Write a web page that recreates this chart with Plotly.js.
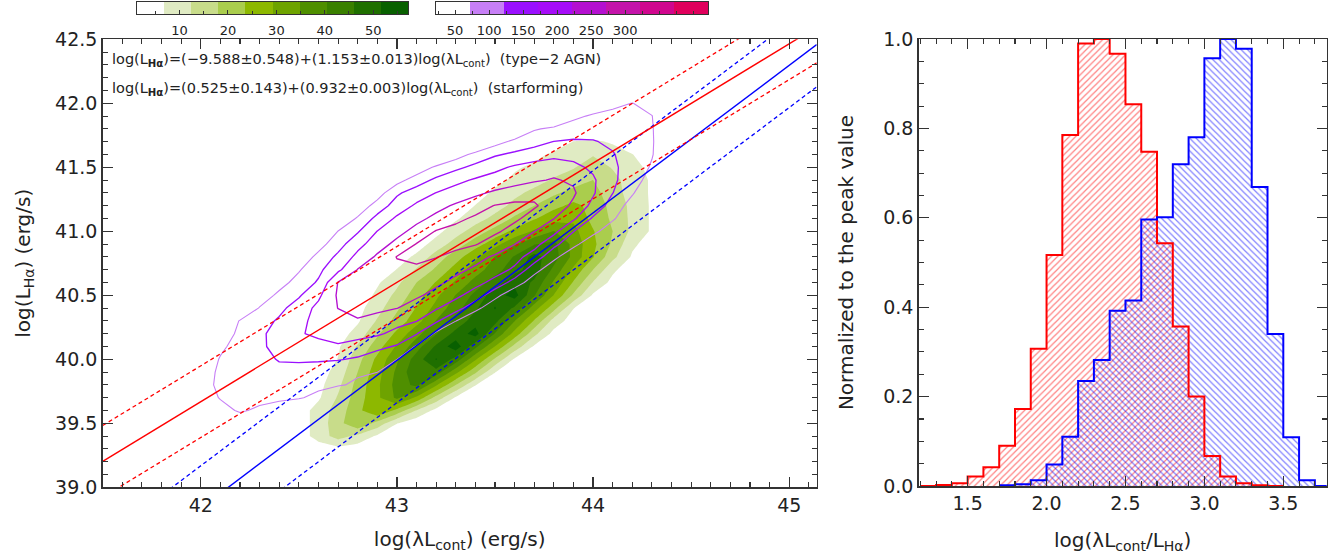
<!DOCTYPE html>
<html>
<head>
<meta charset="utf-8">
<script src="https://cdn.plot.ly/plotly-3.0.1.min.js"></script>
<style>
  html, body { margin: 0; padding: 0; background: #ffffff; }
  #chart { width: 1340px; height: 560px; }
</style>
</head>
<body>
<div id="chart"></div>
<script>
// ---------- Linear fits: log(L_Ha) = a + b * log(lambda L_cont) ----------
const fitNames       = ['type\u22122 AGN', 'starforming'];
const fitIntercepts  = [-9.588, 0.525];
const fitInterceptEr = [0.548, 0.143];
const fitSlopes      = [1.153, 0.932];
const fitSlopeEr     = [0.013, 0.003];
const fitScatter     = [0.33, 0.28];
const fitColors      = ['#0000ff', '#ff0000'];

// ---------- Filled density (green), binned on a 0.1 dex grid ----------
const greenX = [42.4,42.5,42.6,42.7,42.8,42.9,43.0,43.1,43.2,43.3,43.4,43.5,43.6,43.7,43.8,43.9,44.0,44.1,44.2,44.3,44.4];
const greenY = [39.2,39.3,39.4,39.5,39.6,39.7,39.8,39.9,40.0,40.1,40.2,40.3,40.4,40.5,40.6,40.7,40.8,40.9,41.0,41.1,41.2,41.3,41.4,41.5,41.6,41.7,41.8];
const greenZ = [
  [0,0,0,0,0,0,0,0,0,0,0,0,0,0,0,0,0,0,0,0,0],
  [0,0,4,5,4,0,0,0,0,0,0,0,0,0,0,0,0,0,0,0,0],
  [0,4,9,15,11,6,2,0,0,0,0,0,0,0,0,0,0,0,0,0,0],
  [0,4,9,16,23,16,7,3,0,0,0,0,0,0,0,0,0,0,0,0,0],
  [0,4,9,15,22,29,22,12,5,1,0,0,0,0,0,0,0,0,0,0,0],
  [0,2,6,13,21,28,36,28,16,6,2,0,0,0,0,0,0,0,0,0,0],
  [0,1,5,11,20,28,37,42,30,18,7,3,0,0,0,0,0,0,0,0,0],
  [0,0,4,9,18,27,36,45,44,31,19,7,3,0,0,0,0,0,0,0,0],
  [0,0,3,7,16,25,34,43,52,44,30,17,6,2,0,0,0,0,0,0,0],
  [0,0,2,6,13,21,30,38,47,55,42,29,16,6,2,0,0,0,0,0,0],
  [0,0,0,4,9,17,25,33,40,48,54,40,27,14,5,1,0,0,0,0,0],
  [0,0,0,2,6,13,20,27,35,42,49,48,35,23,10,4,0,0,0,0,0],
  [0,0,0,1,5,10,17,24,31,38,45,52,45,32,20,7,3,0,0,0,0],
  [0,0,0,0,3,8,14,21,28,35,42,49,54,41,29,17,6,2,0,0,0],
  [0,0,0,0,2,6,11,18,24,30,37,43,50,45,34,23,12,5,1,0,0],
  [0,0,0,0,0,3,7,13,19,26,32,38,44,49,39,28,18,8,3,0,0],
  [0,0,0,0,0,0,4,8,15,21,28,35,41,48,43,33,24,14,6,2,0],
  [0,0,0,0,0,0,0,4,9,15,21,27,34,40,42,33,25,17,8,4,0],
  [0,0,0,0,0,0,0,1,5,10,15,20,25,30,35,31,24,18,11,6,2],
  [0,0,0,0,0,0,0,0,2,6,10,14,19,23,27,28,22,17,11,6,2],
  [0,0,0,0,0,0,0,0,0,3,7,10,14,18,22,25,22,16,11,6,2],
  [0,0,0,0,0,0,0,0,0,0,4,8,11,14,17,20,20,15,10,6,2],
  [0,0,0,0,0,0,0,0,0,0,1,5,8,10,13,15,18,14,10,6,2],
  [0,0,0,0,0,0,0,0,0,0,0,2,6,8,10,12,15,12,9,5,1],
  [0,0,0,0,0,0,0,0,0,0,0,0,1,5,8,10,12,10,7,3,0],
  [0,0,0,0,0,0,0,0,0,0,0,0,0,0,3,7,8,6,2,0,0],
  [0,0,0,0,0,0,0,0,0,0,0,0,0,0,0,0,0,0,0,0,0]
];
const greenRange  = [1.2, 57.2];
const greenLevels = [6.8, 12.4, 18.0, 23.6, 29.2, 34.8, 40.4, 46.0, 51.6];
const greenColors = ['#ffffff','#e0ebc3','#c8dc8a','#aacd4d','#8db800','#6ea300','#4f8f00','#3a8000','#1f6f00','#086000'];
const greenTicks  = [10, 20, 30, 40, 50];

// ---------- Line-contoured density (purple), binned on a 0.1 dex grid ----------
const purpleX = [41.9,42.0,42.1,42.2,42.3,42.4,42.5,42.6,42.7,42.8,42.9,43.0,43.1,43.2,43.3,43.4,43.5,43.6,43.7,43.8,43.9,44.0,44.1,44.2,44.3,44.4,44.5];
const purpleY = [39.4,39.5,39.6,39.7,39.8,39.9,40.0,40.1,40.2,40.3,40.4,40.5,40.6,40.7,40.8,40.9,41.0,41.1,41.2,41.3,41.4,41.5,41.6,41.7,41.8,41.9,42.0,42.1];
const purpleZ = [
  [0,0,0,0,0,0,0,0,0,0,0,0,0,0,0,0,0,0,0,0,0,0,0,0,0,0,0],
  [0,0,20,30,20,0,0,0,0,0,0,0,0,0,0,0,0,0,0,0,0,0,0,0,0,0,0],
  [0,0,50,80,60,40,15,0,0,0,0,0,0,0,0,0,0,0,0,0,0,0,0,0,0,0,0],
  [0,37,76,89,91,84,77,57,7,0,0,0,0,0,0,0,0,0,0,0,0,0,0,0,0,0,0],
  [4,55,81,96,110,102,94,86,78,62,12,0,0,0,0,0,0,0,0,0,0,0,0,0,0,0,0],
  [0,50,80,95,110,114,105,97,89,80,73,22,0,0,0,0,0,0,0,0,0,0,0,0,0,0,0],
  [0,32,76,94,113,124,128,128,125,116,94,73,22,0,0,0,0,0,0,0,0,0,0,0,0,0,0],
  [0,12,62,92,117,131,142,154,165,150,135,117,67,17,0,0,0,0,0,0,0,0,0,0,0,0,0],
  [0,0,42,84,113,140,167,183,197,191,179,159,125,62,12,0,0,0,0,0,0,0,0,0,0,0,0],
  [0,0,27,75,101,129,162,184,201,218,203,187,174,130,73,22,0,0,0,0,0,0,0,0,0,0,0],
  [0,0,0,27,75,109,145,185,223,237,233,223,201,177,143,89,32,0,0,0,0,0,0,0,0,0,0],
  [0,0,0,0,42,84,116,162,229,245,262,245,229,208,184,149,89,32,0,0,0,0,0,0,0,0,0],
  [0,0,0,0,2,52,92,128,224,237,253,268,250,231,211,188,157,101,42,0,0,0,0,0,0,0,0],
  [0,0,0,0,0,17,67,110,161,224,241,260,262,247,232,215,192,164,91,37,0,0,0,0,0,0,0],
  [0,0,0,0,0,0,37,86,133,186,230,274,285,274,254,236,216,189,150,86,32,0,0,0,0,0,0],
  [0,0,0,0,0,0,2,52,102,155,199,236,274,286,289,275,250,223,189,136,86,37,0,0,0,0,0],
  [0,0,0,0,0,0,0,22,73,117,173,205,239,275,288,297,280,255,223,186,123,86,42,0,0,0,0],
  [0,0,0,0,0,0,0,0,27,78,137,180,208,235,260,280,295,280,255,223,180,115,79,32,0,0,0],
  [0,0,0,0,0,0,0,0,0,37,93,145,180,205,229,250,274,283,277,253,212,158,99,52,2,0,0],
  [0,0,0,0,0,0,0,0,0,0,47,114,146,173,192,212,230,245,260,265,229,178,123,77,27,0,0],
  [0,0,0,0,0,0,0,0,0,0,2,52,97,133,159,178,191,203,216,226,215,179,132,93,52,2,0],
  [0,0,0,0,0,0,0,0,0,0,0,0,37,81,110,136,160,179,194,202,184,163,131,100,67,17,0],
  [0,0,0,0,0,0,0,0,0,0,0,0,0,0,47,87,116,132,145,158,157,141,125,101,75,27,0],
  [0,0,0,0,0,0,0,0,0,0,0,0,0,0,0,2,52,85,105,123,129,125,114,95,76,32,0],
  [0,0,0,0,0,0,0,0,0,0,0,0,0,0,0,0,0,17,67,82,93,104,103,89,75,32,0],
  [0,0,0,0,0,0,0,0,0,0,0,0,0,0,0,0,0,0,0,12,62,78,86,84,73,27,0],
  [0,0,0,0,0,0,0,0,0,0,0,0,0,0,0,0,0,0,0,0,0,40,60,73,55,20,0],
  [0,0,0,0,0,0,0,0,0,0,0,0,0,0,0,0,0,0,0,0,0,0,10,20,10,0,0]
];
const purpleRange  = [22, 422];
const purpleLevels = [72, 122, 172, 222, 272, 322, 372];
const purpleColors = ['#ffffff','#c77ff6','#9a10ff','#a60cf8','#b410d0','#c414aa','#d0068e','#e0005c'];
const purpleTicks  = [50, 100, 150, 200, 250, 300];

// ---------- Histograms of log(lambda L_cont / L_Ha), normalised to peak ----------
const binWidth    = 0.1;
const redCenters  = [1.25,1.35,1.45,1.55,1.65,1.75,1.85,1.95,2.05,2.15,2.25,2.35,2.45,2.55,2.65,2.75,2.85,2.95,3.05,3.15,3.25,3.35,3.45];
const redValues   = [0,0.002,0.006,0.021,0.042,0.090,0.172,0.307,0.517,0.785,0.990,1.000,0.967,0.854,0.748,0.543,0.357,0.200,0.067,0.021,0.006,0.0015,0];
const blueCenters = [1.75,1.85,1.95,2.05,2.15,2.25,2.35,2.45,2.55,2.65,2.75,2.85,2.95,3.05,3.15,3.25,3.35,3.45,3.55,3.65,3.75];
const blueValues  = [0.0015,0.004,0.013,0.048,0.110,0.235,0.282,0.392,0.415,0.596,0.601,0.720,0.780,0.957,1.000,0.978,0.669,0.340,0.109,0.013,0];

// ---------- helpers ----------
const leftRangeX = [41.5, 45.14];
const leftRangeY = [39.0, 42.5];

function steppedScale(colors) {
  const n = colors.length - 1;
  return colors.map((c, i) => [i / n, c]);
}
function signed(v) {
  return (v < 0 ? '\u2212' : '') + Math.abs(v).toFixed(3);
}
function stepOutline(centers, values, color) {
  const xs = centers.map(c => +(c - binWidth / 2).toFixed(3));
  xs.push(+(centers[centers.length - 1] + binWidth / 2).toFixed(3));
  const ys = values.slice();
  ys.push(values[values.length - 1]);
  return { type: 'scatter', mode: 'lines', x: xs, y: ys, xaxis: 'x2', yaxis: 'y2',
           line: { shape: 'hv', color: color, width: 2 }, hoverinfo: 'skip' };
}
function hatchBars(centers, values, color, shape) {
  return { type: 'bar', x: centers, y: values, width: binWidth, xaxis: 'x2', yaxis: 'y2',
           marker: { color: 'rgba(0,0,0,0)', line: { width: 0 },
                     pattern: { shape: shape, fgcolor: color, bgcolor: 'rgba(0,0,0,0)',
                                size: 4.5, solidity: 0.26, fillmode: 'overlay' } },
           hoverinfo: 'skip' };
}

const traces = [];

// green filled contours
const greenFill = greenColors.slice();
greenFill[0] = 'rgba(255,255,255,0)';
traces.push({
  type: 'contour', x: greenX, y: greenY, z: greenZ, xaxis: 'x', yaxis: 'y',
  autocontour: false,
  contours: { start: greenLevels[0], end: greenLevels[greenLevels.length - 1],
              size: +(greenLevels[1] - greenLevels[0]).toFixed(2), coloring: 'fill', showlines: false },
  colorscale: steppedScale(greenFill), showscale: false,
  line: { width: 0, smoothing: 0 }, hoverinfo: 'skip'
});

// purple contour lines, one trace per level so each keeps its own colour
purpleLevels.forEach((lev, i) => {
  traces.push({
    type: 'contour', x: purpleX, y: purpleY, z: purpleZ, xaxis: 'x', yaxis: 'y',
    autocontour: false,
    contours: { start: lev, end: lev, size: 50, coloring: 'none' },
    line: { color: purpleColors[i + 1], width: i === 0 ? 1.1 : 1.35, smoothing: 0 },
    showscale: false, hoverinfo: 'skip'
  });
});

// fit lines with +-1 sigma scatter (dashed)
fitIntercepts.forEach((a, i) => {
  const b = fitSlopes[i];
  [0, 1, -1].forEach(k => {
    const off = k * fitScatter[i];
    traces.push({
      type: 'scatter', mode: 'lines', xaxis: 'x', yaxis: 'y',
      x: leftRangeX, y: leftRangeX.map(x => a + off + b * x),
      line: { color: fitColors[i], width: k === 0 ? 1.4 : 1.3, dash: k === 0 ? 'solid' : '4px,3px' },
      hoverinfo: 'skip'
    });
  });
});

// histograms
traces.push(hatchBars(redCenters, redValues, '#ff0000', '/'));
traces.push(hatchBars(blueCenters, blueValues, '#0000ff', '\\'));
traces.push(stepOutline(redCenters, redValues, '#ff0000'));
traces.push(stepOutline(blueCenters, blueValues, '#0000ff'));

// colour bars as single-row heatmaps with level edges
const greenEdges = [greenRange[0]].concat(greenLevels, [greenRange[1]]);
traces.push({
  type: 'heatmap', xaxis: 'x3', yaxis: 'y3',
  x: greenEdges, y: [0, 1], z: [greenColors.map((c, i) => i)],
  zmin: 0, zmax: greenColors.length - 1, colorscale: steppedScale(greenColors),
  showscale: false, hoverinfo: 'skip'
});
const purpleEdges = [purpleRange[0]].concat(purpleLevels, [purpleRange[1]]);
traces.push({
  type: 'heatmap', xaxis: 'x4', yaxis: 'y4',
  x: purpleEdges, y: [0, 1], z: [purpleColors.map((c, i) => i)],
  zmin: 0, zmax: purpleColors.length - 1, colorscale: steppedScale(purpleColors),
  showscale: false, hoverinfo: 'skip'
});

// ---------- layout ----------
const W = 1340, H = 560;
const px = v => v / W;
const py = v => 1 - v / H;
const axisInk = '#333333';
const tickFont = { family: 'DejaVu Sans', size: 19, color: '#222' };
const titleFont = { family: 'DejaVu Sans', size: 20, color: '#222' };

function frameAxis(extra) {
  return Object.assign({
    showline: true, mirror: 'ticks', linecolor: axisInk, linewidth: 1.5,
    ticks: 'inside', ticklen: 10, tickwidth: 1.3, tickcolor: axisInk,
    showgrid: false, zeroline: false, tickfont: tickFont, automargin: false
  }, extra);
}
function barAxis(extra) {
  return Object.assign({
    showline: true, mirror: true, linecolor: axisInk, linewidth: 1.2,
    showgrid: false, zeroline: false, automargin: false
  }, extra);
}

const eqText = fitIntercepts.map((a, i) =>
  'log(L<sub><b>H\u03b1</b></sub>)=(' + signed(a) + '\u00b1' + fitInterceptEr[i].toFixed(3) + ')+(' +
  fitSlopes[i].toFixed(3) + '\u00b1' + fitSlopeEr[i].toFixed(3) + ')log(\u03bbL<sub>cont</sub>)  (' + fitNames[i] + ')');

const layout = {
  width: W, height: H,
  margin: { l: 0, r: 0, t: 0, b: 0 },
  paper_bgcolor: '#ffffff', plot_bgcolor: 'rgba(0,0,0,0)',
  showlegend: false, barmode: 'overlay', bargap: 0,
  font: { family: 'DejaVu Sans', color: '#222' },
  xaxis: frameAxis({
    domain: [px(102.7), px(816.7)], anchor: 'y', range: leftRangeX,
    tick0: 42, dtick: 1,
    minor: { dtick: 0.1, tick0: 42, ticks: 'inside', ticklen: 5, tickcolor: axisInk, tickwidth: 1.1 },
    title: { text: 'log(\u03bbL<sub>cont</sub>) (erg/s)', font: titleFont, standoff: 17 }
  }),
  yaxis: frameAxis({
    domain: [py(487.3), py(39.3)], anchor: 'x', range: leftRangeY,
    tick0: 39, dtick: 0.5, tickformat: '.1f',
    minor: { dtick: 0.1, tick0: 39, ticks: 'inside', ticklen: 5, tickcolor: axisInk, tickwidth: 1.1 },
    title: { text: 'log(L<sub>H\u03b1</sub>) (erg/s)', font: titleFont, standoff: 19 }
  }),
  xaxis2: frameAxis({
    domain: [px(918.7), px(1326.7)], anchor: 'y2', range: [1.19, 3.775],
    tick0: 1.5, dtick: 0.5, tickformat: '.1f',
    minor: { dtick: 0.1, tick0: 1.5, ticks: 'inside', ticklen: 5, tickcolor: axisInk, tickwidth: 1.1 },
    title: { text: 'log(\u03bbL<sub>cont</sub>/L<sub>H\u03b1</sub>)', font: titleFont, standoff: 19 }
  }),
  yaxis2: frameAxis({
    domain: [py(486), py(39)], anchor: 'x2', range: [0, 1],
    tick0: 0, dtick: 0.2, tickformat: '.1f',
    minor: { dtick: 0.05, tick0: 0, ticks: 'inside', ticklen: 5, tickcolor: axisInk, tickwidth: 1.1 },
    title: { text: 'Normalized to the peak value', font: titleFont, standoff: 24 }
  }),
  xaxis3: barAxis({
    domain: [px(137), px(408)], anchor: 'y3', range: greenRange,
    tickvals: greenTicks, ticks: 'inside', ticklen: 4, tickcolor: axisInk,
    minor: { dtick: 5, tick0: 0, ticks: 'inside', ticklen: 3, tickcolor: axisInk },
    ticklabelstandoff: 4,
    tickfont: { family: 'DejaVu Sans', size: 13, color: '#222' }
  }),
  yaxis3: barAxis({
    domain: [py(14), py(2)], anchor: 'x3', range: [0, 1],
    showticklabels: false, ticks: ''
  }),
  xaxis4: barAxis({
    domain: [px(436), px(708)], anchor: 'y4', range: purpleRange,
    tickvals: purpleTicks, ticks: 'inside', ticklen: 4, tickcolor: axisInk,
    minor: { dtick: 25, tick0: 0, ticks: 'inside', ticklen: 3, tickcolor: axisInk },
    ticklabelstandoff: 4,
    tickfont: { family: 'DejaVu Sans', size: 13, color: '#222' }
  }),
  yaxis4: barAxis({
    domain: [py(14), py(2)], anchor: 'x4', range: [0, 1],
    showticklabels: false, ticks: ''
  }),
  annotations: eqText.map((t, i) => ({
    text: t, xref: 'paper', yref: 'paper', x: px(110), y: py(60 + 29 * i),
    xanchor: 'left', yanchor: 'middle', showarrow: false,
    font: { family: 'DejaVu Sans', size: 14.5, color: '#222' }
  }))
};

Plotly.newPlot('chart', traces, layout, { displayModeBar: false, staticPlot: true });
</script>
</body>
</html>
